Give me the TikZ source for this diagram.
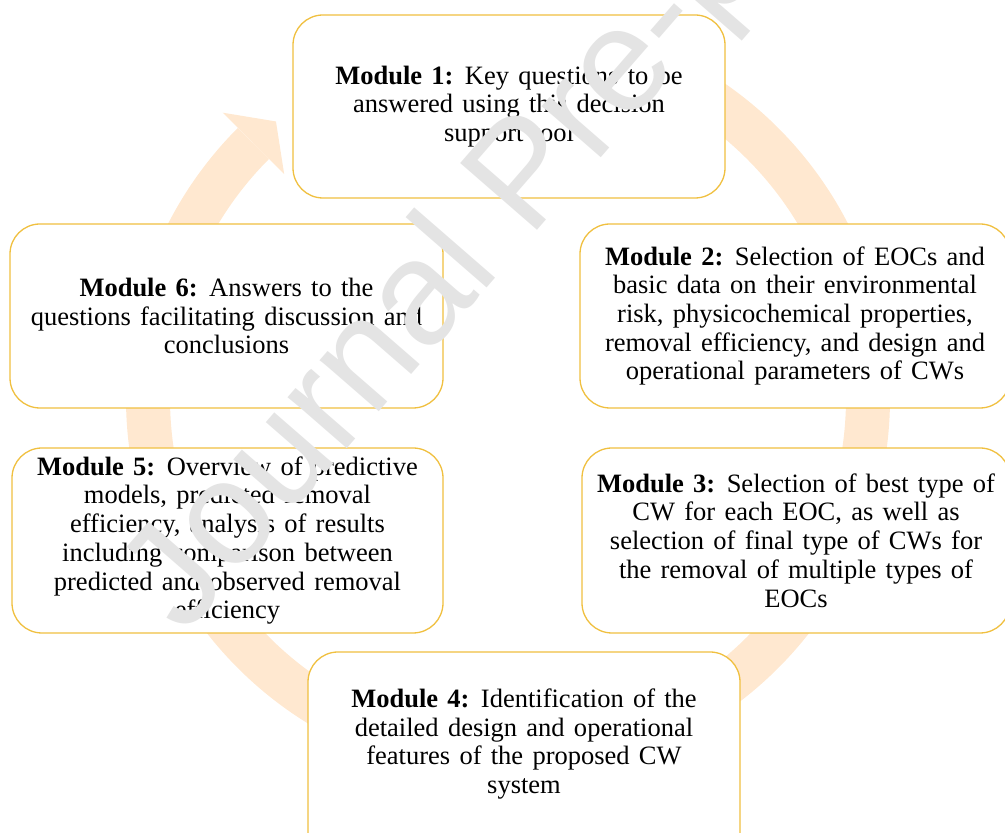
\documentclass[tikz,border=0pt]{standalone}
\usepackage{fontspec}
\setmainfont{Liberation Serif}[WordSpace=1.4]
\newfontfamily\wmfont{Liberation Sans}
\usetikzlibrary{calc}
\definecolor{ringc}{RGB}{255,232,208}
\definecolor{boxc}{RGB}{240,192,64}
\definecolor{wmc}{RGB}{228,228,228}
\begin{document}
\begin{tikzpicture}[x=1pt,y=1pt,
  box/.style={draw=boxc, line width=1.3pt, fill=white, rounded corners=30pt, inner sep=0pt},
  txt/.style={align=center, font=\fontsize{26.5}{28.7}\selectfont, inner sep=0pt},
  ring/.style={draw=ringc, line width=44pt},
  wm/.style={text=wmc, font=\wmfont\fontsize{148}{148}\selectfont, inner sep=0pt}]
\useasboundingbox (0,0) rectangle (1005,833);
% circular arrow
\coordinate (c) at (508,435);
\draw[ring] ($(c)+(90:360)$) arc[start angle=90, end angle=-225, radius=360];
\fill[ringc] ($(c)+(135:403.5)$) -- ($(c)+(130:361)$) -- ($(c)+(135:316.5)$) -- cycle;
% modules
\node[box, txt, minimum width=432, minimum height=183] (m1) at (509,726.5)
  {\textbf{Module 1:} Key questions to be\\ answered using this decision\\ support tool};
\node[box, txt, minimum width=430, minimum height=184] (m2) at (795,517)
  {\textbf{Module 2:} Selection of EOCs and\\ basic data on their environmental\\ risk, physicochemical properties,\\ removal efficiency, and design and\\ operational parameters of CWs};
\node[box, txt, minimum width=428, minimum height=185] (m3) at (796,292.5)
  {\textbf{Module 3:} Selection of best type of\\ CW for each EOC, as well as\\ selection of final type of CWs for\\ the removal of multiple types of\\ EOCs};
\node[box, minimum width=432, minimum height=230] (m4) at (524,66) {};
\node[txt] (t4) at (524,89)
  {\textbf{Module 4:} Identification of the\\ detailed design and operational\\ features of the proposed CW\\ system};
\node[box, txt, minimum width=431, minimum height=185] (m5) at (227.5,292.5)
  {\textbf{Module 5:} Overview of predictive\\ models, predicted removal\\ efficiency, analysis of results\\ including comparison between\\ predicted and observed removal\\ efficiency};
\node[box, txt, minimum width=433, minimum height=184] (m6) at (226.5,517)
  {\textbf{Module 6:} Answers to the\\ questions facilitating discussion and\\ conclusions};
% watermark
\node[wm, rotate=49, anchor=base west] (wmk) at (184,196) {Journal Pre-proof};
\end{tikzpicture}
\end{document}
